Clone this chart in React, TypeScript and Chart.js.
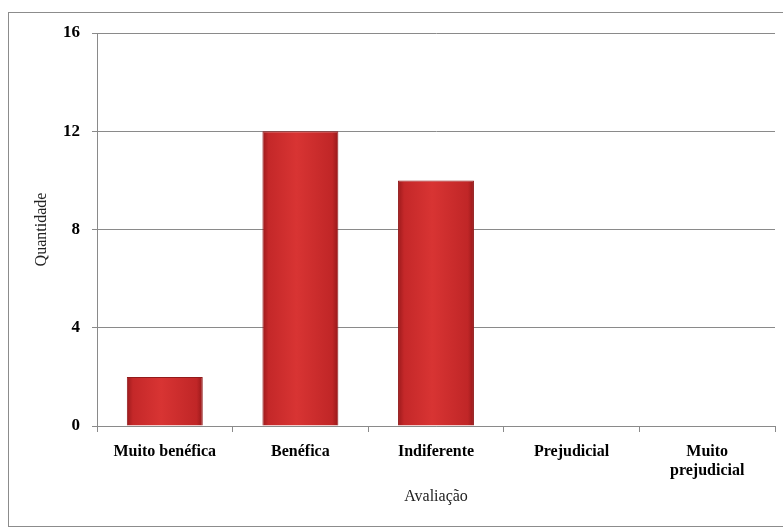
import React, { useEffect, useRef } from "react";
import { Chart, registerables } from "chart.js";

Chart.register(...registerables);

const categories: (string | string[])[] = ["Muito benéfica", "Benéfica", "Indiferente", "Prejudicial", ["Muito", "prejudicial"]];
const quantities = [2, 12, 10, 0, 0];
const yTicks = [0, 4, 8, 12, 16];

const gradientPlugin = {
  id: "barGradient",
  beforeDatasetsDraw(chart: any) {
    const ctx = chart.ctx;
    const meta = chart.getDatasetMeta(0);
    meta.data.forEach((el: any) => {
      const x0 = el.x - el.width / 2;
      const x1 = el.x + el.width / 2;
      const g = ctx.createLinearGradient(x0, 0, x1, 0);
      g.addColorStop(0, "#9c1a1c");
      g.addColorStop(0.08, "#c42829");
      g.addColorStop(0.45, "#d83433");
      g.addColorStop(0.92, "#c02627");
      g.addColorStop(1, "#961819");
      el.options.backgroundColor = g;
    });
  },
};

export default function App() {
  const ref = useRef<HTMLCanvasElement | null>(null);
  useEffect(() => {
    if (!ref.current) return;
    const font = "'Liberation Serif', 'Times New Roman', serif";
    const chart = new Chart(ref.current, {
      type: "bar",
      data: {
        labels: categories as any,
        datasets: [
          {
            data: quantities,
            backgroundColor: () => "#d0302e",
            borderColor: "#921a1b",
            borderWidth: 1,
            categoryPercentage: 0.56,
            barPercentage: 1,
          },
        ],
      },
      options: {
        animation: false,
        responsive: false,
        maintainAspectRatio: false,
        layout: { padding: { left: 0, right: 8, top: 33, bottom: 0 } },
        plugins: { legend: { display: false }, tooltip: { enabled: false } },
        scales: {
          x: {
            grid: {
              display: true,
              drawOnChartArea: false,
              drawTicks: true,
              tickLength: 6,
              color: "#8a8a8a",
              offset: true,
            },
            border: { color: "#8a8a8a", width: 1 },
            ticks: {
              color: "#000",
              font: { family: font, size: 16, weight: "bold" },
              padding: 10,
              maxRotation: 0,
              autoSkip: false,
            },
            title: {
              display: true,
              text: "Avaliação",
              color: "#222",
              font: { family: font, size: 16 },
              padding: { top: 14, bottom: 25 },
            },
            afterFit(scale: any) {
              scale.height = 105;
            },
          },
          y: {
            min: 0,
            max: 16,
            afterBuildTicks(scale: any) {
              scale.ticks = yTicks.map((v) => ({ value: v }));
            },
            grid: { color: "#8a8a8a", tickLength: 5, lineWidth: 1 },
            border: { color: "#8a8a8a", width: 1 },
            ticks: {
              color: "#000",
              font: { family: font, size: 17, weight: "bold" },
              padding: 12,
            },
            title: {
              display: true,
              text: "Quantidade",
              color: "#222",
              font: { family: font, size: 16 },
              padding: { top: 32, bottom: 0 },
            },
            afterFit(scale: any) {
              scale.width = 97;
            },
          },
        },
      },
      plugins: [gradientPlugin],
    });
    return () => chart.destroy();
  }, []);
  return (
    <div style={{ position: "fixed", left: 0, top: 0, width: 783, height: 531, background: "#fff" }}>
      <div
        style={{
          position: "absolute",
          left: 8,
          top: 12,
          width: 790,
          height: 515,
          border: "1px solid #8c8c8c",
          boxSizing: "border-box",
        }}
      />
      <canvas ref={ref} width={783} height={531} style={{ position: "absolute", left: 0, top: 0 }} />
    </div>
  );
}
